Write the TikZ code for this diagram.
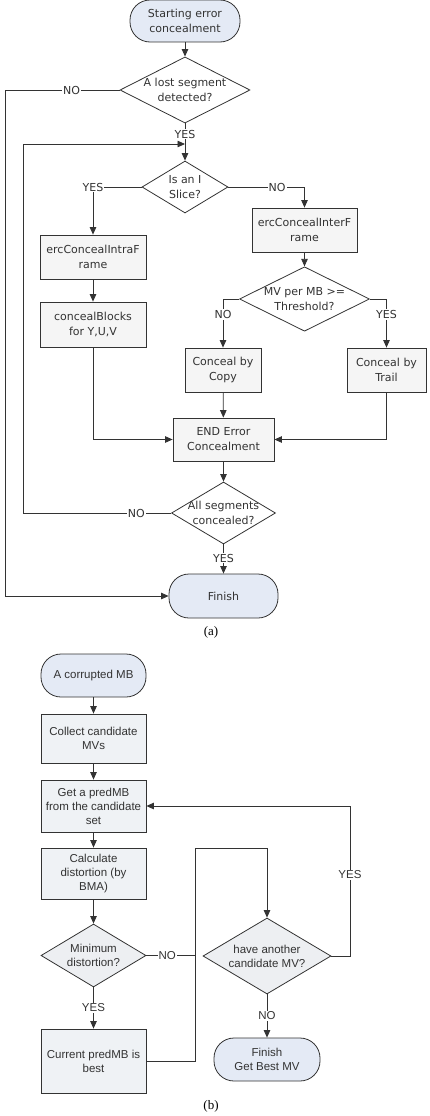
\documentclass[tikz,border=0pt]{standalone}
\usepackage{fontspec}
\usepackage{tikz}
\usetikzlibrary{arrows.meta,shapes.geometric}

\newfontfamily\tahomalike{DejaVu Sans}
\newfontfamily\ariallike{Liberation Sans}
\newfontfamily\timeslike{Liberation Serif}

\definecolor{termfill}{HTML}{E4EAF5}
\definecolor{boxfill}{HTML}{F5F5F5}
\definecolor{bboxfill}{HTML}{EFF2F5}
\definecolor{bdecfill}{HTML}{EDEFF2}
\definecolor{inkgray}{HTML}{333333}

\tikzset{
    afont/.style={font=\tahomalike\fontsize{11}{15}\selectfont},
    bfont/.style={font=\ariallike\fontsize{11.5}{14}\selectfont},
    term/.style={draw=inkgray,fill=termfill,rounded corners=20pt,minimum width=110pt,
        minimum height=42pt,align=center,inner sep=2pt,line width=0.8pt,text=inkgray},
    box/.style={draw=inkgray,fill=boxfill,minimum width=106pt,minimum height=44pt,
        align=center,inner sep=2pt,line width=0.8pt,text=inkgray},
    dec/.style={draw=inkgray,fill=white,diamond,inner sep=-10pt,align=center,
        line width=0.8pt,text=inkgray},
    wire/.style={draw=inkgray,line width=0.8pt},
    flow/.style={wire,->},
    lbl/.style={fill=white,inner sep=1pt,text=inkgray},
}

\begin{document}
\begin{tikzpicture}[x=1pt,y=-1pt,>={Triangle[length=7.5pt,width=6.5pt]}]
    \useasboundingbox (0,0) rectangle (429,1116);

    % (a) error concealment
    \begin{scope}[afont]
    \node[term] (start) at (185,21) {Starting error\\concealment};
    \node[dec,minimum width=130pt,minimum height=60pt] (lost) [below of=start,node distance=69pt] {A lost segment\\detected?};
    \node[dec,minimum width=86pt,minimum height=52pt] (slice) [below of=lost,node distance=97pt] {Is an I\\Slice?};

    \node[box] (intra) at (93,257) {ercConcealIntraF\\rame};
    \node[box,minimum height=45pt] (blocks) [below of=intra,node distance=67.5pt] {concealBlocks\\for Y,U,V};

    \node[box,minimum width=105pt] (inter) at (304.5,230) {ercConcealInterF\\rame};
    \node[dec,minimum width=130pt,minimum height=62pt] (thresh) [below of=inter,node distance=69pt] {MV per MB >=\\Threshold?};
    \node[box,minimum width=76pt] (copy) at (223,370) {Conceal by\\Copy};
    \node[box,minimum width=79pt] (trail) at (386.5,370) {Conceal by\\Trail};

    \node[box,minimum width=101pt,minimum height=43pt] (endconceal) at (223.5,439.5) {END Error\\Concealment};
    \node[dec,minimum width=104pt,minimum height=62pt] (allseg) [below of=endconceal,node distance=73.5pt] {All segments\\concealed?};
    \node[term,minimum width=109pt,minimum height=44pt] (finish) [below of=allseg,node distance=83pt] {Finish};

    \coordinate (skip) at (5,90);
    \coordinate (loop) at (23,144);
    \coordinate (join) at (185,144);

    \draw[flow] (start) -- (lost);
    \draw[flow] (lost.west) -- node[lbl,pos=0.42] {NO} (skip) |- (finish.west);
    \draw[flow] (lost) -- node[lbl,pos=0.29] {YES} (slice);
    \draw[flow] (slice.west) -| node[lbl] {YES} (intra);
    \draw[flow] (slice.east) -| node[lbl,pos=0.32] {NO} (inter);
    \draw[flow] (intra) -- (blocks);
    \draw[flow] (inter) -- (thresh);
    \draw[flow] (thresh.west) -| node[lbl,pos=0.66] {NO} (copy);
    \draw[flow] (thresh.east) -| node[lbl,pos=0.66] {YES} (trail);
    \draw[flow] (copy) -- (endconceal);
    \draw[flow] (blocks) |- (endconceal);
    \draw[flow] (trail) |- (endconceal);
    \draw[flow] (endconceal) -- (allseg);
    \draw[flow] (allseg.west) -- node[lbl,pos=0.235] {NO} (allseg.west -| loop) -- (loop) -- (join);
    \draw[flow] (allseg) -- node[lbl,pos=0.47] {YES} (finish);
    \end{scope}

    \node[font=\timeslike\fontsize{13}{15}\selectfont] (capa) at (211,632) {(a)};

    % (b) motion vector search
    \begin{scope}[bfont,box/.append style={fill=bboxfill,minimum width=105pt},dec/.append style={fill=bdecfill}]
    \node[term,minimum width=105pt,minimum height=43pt] (corrupt) at (93.5,675.5) {A corrupted MB};
    \node[box,minimum height=49pt] (collect) [below of=corrupt,node distance=63pt] {Collect candidate\\MVs};
    \node[box,minimum height=52pt] (getpred) [below of=collect,node distance=67.5pt] {Get a predMB\\from the candidate\\set};
    \node[box,minimum height=51pt] (calc) [below of=getpred,node distance=67.5pt] {Calculate\\distortion (by\\BMA)};
    \node[dec,minimum width=105pt,minimum height=63pt] (mindist) [below of=calc,node distance=82pt] {Minimum\\distortion?};
    \node[box,minimum height=64pt] (current) [below of=mindist,node distance=105.5pt] {Current predMB is\\best};

    \node[dec,minimum width=128pt,minimum height=76pt] (another) at (267,956) {have another\\candidate MV?};
    \node[term,minimum width=106pt,minimum height=43pt] (finishb) [below of=another,node distance=103.5pt] {Finish\\Get Best MV};

    \coordinate (up) at (195,848);
    \coordinate (back) at (350,806);

    \draw[flow] (corrupt) -- (collect);
    \draw[flow] (collect) -- (getpred);
    \draw[flow] (getpred) -- (calc);
    \draw[flow] (calc) -- (mindist);
    \draw[flow] (mindist) -- node[lbl] {YES} (current);
    \draw[wire] (mindist.east) -- node[lbl,pos=0.43] {NO} (mindist.east -| up);
    \draw[flow] (current.east) -| (up) -| (another);
    \draw[flow] (another.east) -| node[lbl,pos=0.77] {YES} (back) -- (getpred.east);
    \draw[flow] (another) -- node[lbl] {NO} (finishb);
    \end{scope}

    \node[font=\timeslike\fontsize{13}{15}\selectfont] (capb) at (211,1106) {(b)};
\end{tikzpicture}
\end{document}
